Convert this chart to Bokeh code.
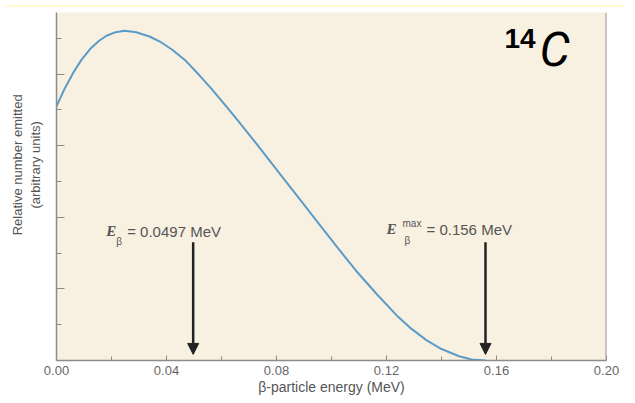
from bokeh.plotting import figure
from bokeh.models import (Range1d, FixedTicker, NumeralTickFormatter, Label, Arrow,
                          NormalHead, Span, CustomJSTickFormatter, Div)
from bokeh.layouts import column
from bokeh.embed import file_html
from bokeh.resources import INLINE

# ---- data ----
energy = [0.000, 0.003, 0.0062, 0.009, 0.0122, 0.0155, 0.0182, 0.0215, 0.0248,
          0.029, 0.0338, 0.038, 0.0421, 0.047, 0.0518, 0.056, 0.0615, 0.0662,
          0.0715, 0.077, 0.083, 0.0888, 0.095, 0.1022, 0.109, 0.1165, 0.1237,
          0.129, 0.1345, 0.140, 0.1464, 0.151, 0.156]
counts = [7.10, 7.60, 8.05, 8.39, 8.70, 8.93, 9.07, 9.17, 9.21, 9.17, 9.05,
          8.89, 8.68, 8.37, 7.98, 7.62, 7.12, 6.68, 6.17, 5.63, 5.04, 4.47,
          3.86, 3.15, 2.50, 1.85, 1.26, 0.89, 0.57, 0.32, 0.12, 0.03, 0.0]

x_major = [0.00, 0.04, 0.08, 0.12, 0.16, 0.20]
x_minor = [0.02, 0.06, 0.10, 0.14, 0.18]
y_major = [2, 4, 6, 8]
y_minor = [1, 3, 5, 7, 9]

e_mean = 0.0497
e_max = 0.156
mean_label = "= 0.0497 MeV"
max_label = "= 0.156 MeV"
x_title = "β-particle energy (MeV)"
PAD = "\u00a0" * 12
y_title = PAD + "Relative number emitted\n" + PAD + "(arbitrary units)"

X_END = 0.20
Y_END = 9.72
ARROW_TOP = 3.3
ARROW_TIP = 0.17

TXT = "#555555"
FONT = "Liberation Sans"

p = figure(width=619, height=385, output_backend="svg", toolbar_location=None,
           title=None, x_range=Range1d(0, X_END), y_range=Range1d(0, Y_END),
           min_border_left=56, min_border_right=13, min_border_top=0,
           min_border_bottom=33, background_fill_color="#f8f1e1",
           border_fill_color="white", outline_line_color=None)
p.grid.visible = False

# axes
p.xaxis.ticker = FixedTicker(ticks=x_major, minor_ticks=x_minor)
p.xaxis.formatter = NumeralTickFormatter(format="0.00")
p.yaxis.ticker = FixedTicker(ticks=y_major, minor_ticks=y_minor)
p.yaxis.formatter = CustomJSTickFormatter(code="return ''")
p.yaxis.major_label_standoff = 0
for ax in (p.xaxis[0], p.yaxis[0]):
    ax.axis_line_color = "#8c8c8c"
    ax.axis_line_width = 1.5
    ax.major_tick_line_color = "#8c8c8c"
    ax.minor_tick_line_color = "#8c8c8c"
    ax.major_tick_out = 0
    ax.minor_tick_out = 0
    ax.axis_label_text_font = FONT
    ax.axis_label_text_font_style = "normal"
    ax.axis_label_text_color = TXT
p.xaxis.major_tick_in = 5
p.xaxis.minor_tick_in = 4
p.yaxis.major_tick_in = 8
p.yaxis.minor_tick_in = 5
p.xaxis.major_label_text_font = FONT
p.xaxis.major_label_text_font_size = "13px"
p.xaxis.major_label_text_color = "#666666"
p.xaxis.major_label_standoff = 5
p.xaxis.axis_label = x_title
p.xaxis.axis_label_text_font_size = "14px"
p.xaxis.axis_label_standoff = 1
p.yaxis.axis_label = y_title
p.yaxis.axis_label_text_font_size = "13px"
p.yaxis.axis_label_standoff = 14

p.add_layout(Span(location=X_END, dimension="height", line_color="#9a9a9a", line_width=2))

# curve
p.line(energy, counts, line_color="#5b9bc6", line_width=2)

# arrows
for xv in (e_mean, e_max):
    p.add_layout(Arrow(end=NormalHead(size=11, fill_color="#222222", line_color="#222222"),
                       x_start=xv, y_start=ARROW_TOP, x_end=xv, y_end=ARROW_TIP,
                       line_color="#222222", line_width=2.5))

def lab(x, y, text, xo, yo, font=FONT, size="15px", style="normal", color=TXT,
        align="left", baseline="alphabetic"):
    p.add_layout(Label(x=x, y=y, text=text, x_offset=xo, y_offset=yo,
                       text_font=font, text_font_size=size, text_font_style=style,
                       text_color=color, text_align=align, text_baseline=baseline))

# mean energy label
lab(e_mean, ARROW_TOP, "E", -87, 11, font="Liberation Serif", size="15px", style="bold italic")
lab(e_mean, ARROW_TOP, "β", -77, 1, size="10px")
lab(e_mean, ARROW_TOP, mean_label, -66, 11)
# max energy label
lab(e_max, ARROW_TOP, "E", -99, 13, font="Liberation Serif", size="15px", style="bold italic")
lab(e_max, ARROW_TOP, "max", -83, 19, size="10px")
lab(e_max, ARROW_TOP, "β", -81, 2, size="10px")
lab(e_max, ARROW_TOP, max_label, -59, 13)

# isotope label
lab(X_END, Y_END, "14", -102, -26, size="28px", style="bold", color="black")
lab(X_END, Y_END, "C", -67, -37, font="Roboto", size="48px", style="italic", color="black")

# bottom edge of the dotted yellow strip of the reference screenshot
top_strip = Div(width=619, height=2, styles={"background-color": "#fffbcc"})

layout = column(top_strip, p, spacing=0)

open("out.html", "w").write(file_html(layout, INLINE))
